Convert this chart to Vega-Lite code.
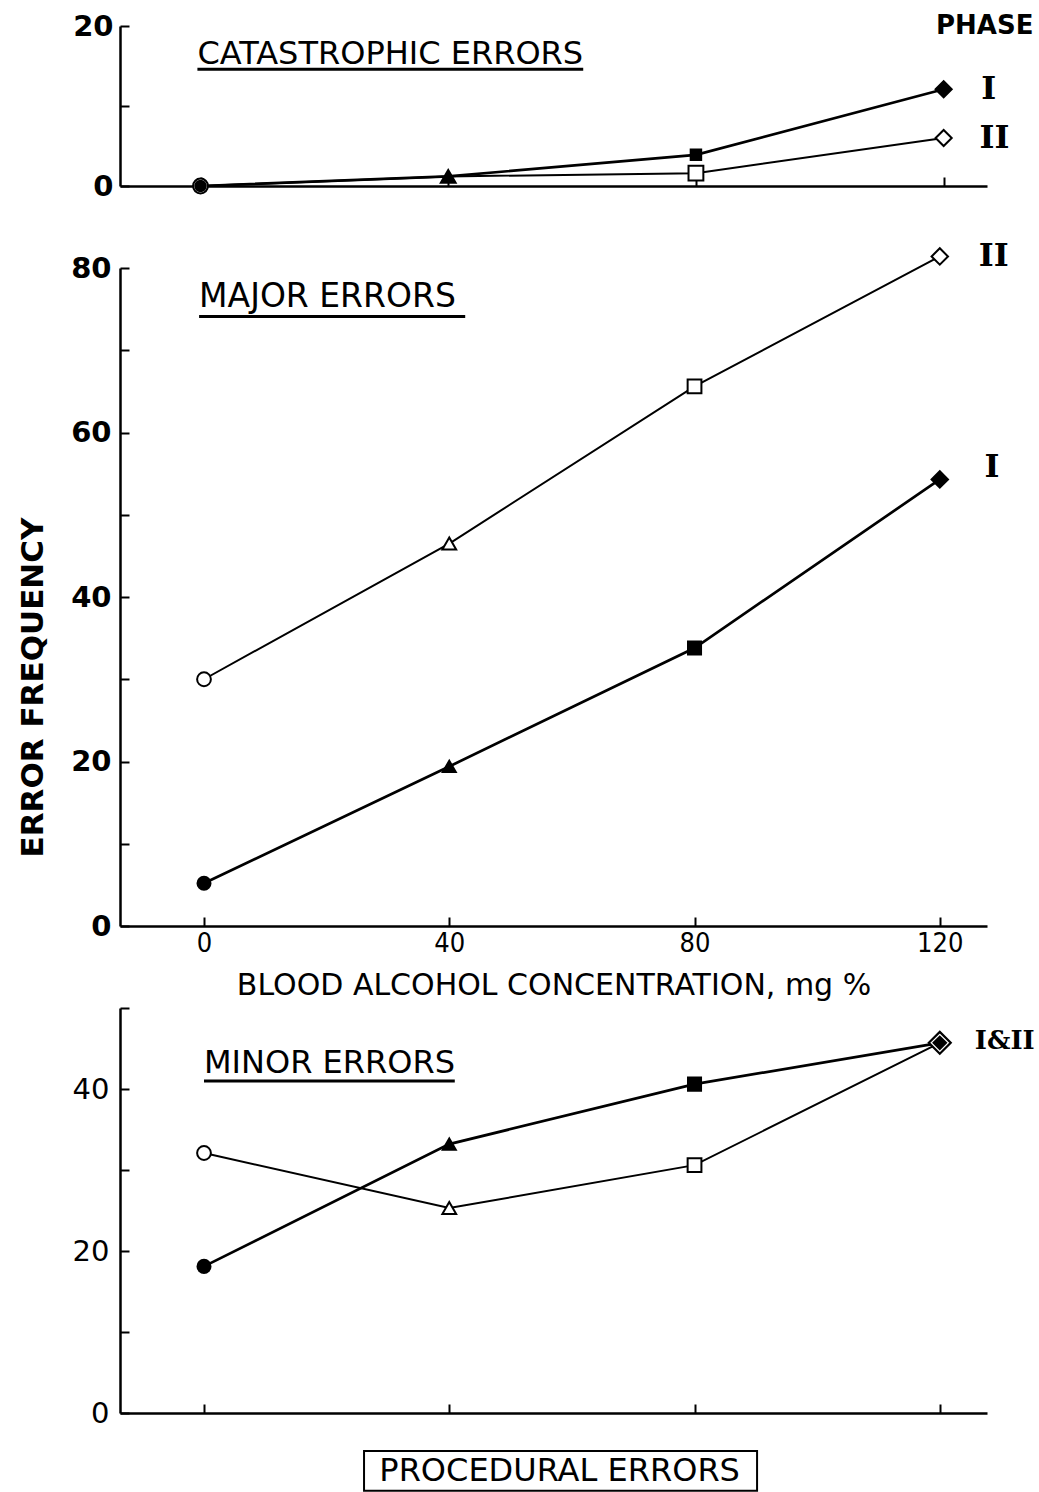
{
  "$schema": "https://vega.github.io/schema/vega-lite/v6.json",
  "background": "white",
  "padding": {"left": 17, "top": 12, "right": 5, "bottom": 2},
  "bounds": "flush",
  "spacing": 82,
  "datasets": {
    "errors": [
      {"panel": "catastrophic", "phase": "II", "bac": 0, "freq": 0},
      {"panel": "catastrophic", "phase": "II", "bac": 40, "freq": 1.2},
      {"panel": "catastrophic", "phase": "II", "bac": 80, "freq": 1.6},
      {"panel": "catastrophic", "phase": "II", "bac": 120, "freq": 6.0},
      {"panel": "catastrophic", "phase": "I", "bac": 0, "freq": 0},
      {"panel": "catastrophic", "phase": "I", "bac": 40, "freq": 1.2},
      {"panel": "catastrophic", "phase": "I", "bac": 80, "freq": 3.9},
      {"panel": "catastrophic", "phase": "I", "bac": 120, "freq": 12.1},
      {"panel": "major", "phase": "II", "bac": 0, "freq": 30.0},
      {"panel": "major", "phase": "II", "bac": 40, "freq": 46.5},
      {"panel": "major", "phase": "II", "bac": 80, "freq": 65.6},
      {"panel": "major", "phase": "II", "bac": 120, "freq": 81.4},
      {"panel": "major", "phase": "I", "bac": 0, "freq": 5.2},
      {"panel": "major", "phase": "I", "bac": 40, "freq": 19.4},
      {"panel": "major", "phase": "I", "bac": 80, "freq": 33.8},
      {"panel": "major", "phase": "I", "bac": 120, "freq": 54.3},
      {"panel": "minor", "phase": "II", "bac": 0, "freq": 32.1},
      {"panel": "minor", "phase": "II", "bac": 40, "freq": 25.3},
      {"panel": "minor", "phase": "II", "bac": 80, "freq": 30.6},
      {"panel": "minor", "phase": "II", "bac": 120, "freq": 45.7},
      {"panel": "minor", "phase": "I", "bac": 0, "freq": 18.1},
      {"panel": "minor", "phase": "I", "bac": 40, "freq": 33.2},
      {"panel": "minor", "phase": "I", "bac": 80, "freq": 40.6},
      {"panel": "minor", "phase": "I", "bac": 120, "freq": 45.7}
    ]
  },
  "config": {
    "view": {"stroke": null},
    "axis": {
      "grid": false,
      "domainColor": "black",
      "domainWidth": 2.5,
      "tickColor": "black",
      "tickWidth": 2,
      "tickSize": -9,
      "labelColor": "black",
      "titleColor": "black",
      "labelFont": "DejaVu Sans",
      "labelFontWeight": "bold",
      "labelFontSize": 29
    }
  },
  "vconcat": [
    {
      "width": 867,
      "height": 160,
      "resolve": {"scale": {"size": "independent"}},
      "layer": [
        {
          "data": {"name": "errors"},
          "transform": [{"filter": "datum.panel == 'catastrophic'"}],
          "mark": {"type": "line", "color": "black"},
          "encoding": {
            "x": {"field": "bac", "type": "quantitative", "scale": {"domain": [-13, 127], "nice": false, "zero": false}, "axis": {"values": [0, 40, 80, 120], "labels": false, "title": null}},
            "y": {"field": "freq", "type": "quantitative", "scale": {"domain": [0, 20], "nice": false}, "axis": {"values": [0, 10, 20], "labelExpr": "datum.value == 10 ? '' : datum.label", "labelPadding": 16, "title": null}},
            "detail": {"field": "phase"},
            "strokeWidth": {"field": "phase", "type": "nominal", "scale": {"domain": ["I", "II"], "range": [2.7, 2]}, "legend": null}
          }
        },
        {
          "data": {"name": "errors"},
          "transform": [{"filter": "datum.panel == 'catastrophic' && datum.bac != 120"}],
          "mark": {"type": "point", "filled": true, "stroke": "black", "strokeWidth": 2, "opacity": 1},
          "encoding": {
            "x": {"field": "bac", "type": "quantitative"},
            "y": {"field": "freq", "type": "quantitative"},
            "shape": {"field": "bac", "type": "nominal", "scale": {"domain": [0, 40, 80, 120], "range": ["circle", "triangle-up", "square", "diamond"]}, "legend": null},
            "fill": {"field": "phase", "type": "nominal", "scale": {"domain": ["I", "II"], "range": ["black", "white"]}, "legend": null},
            "size": {"field": "phase", "type": "nominal", "scale": {"domain": ["I", "II"], "range": [110, 220]}, "legend": null}
          }
        },
        {
          "data": {"name": "errors"},
          "transform": [{"filter": "datum.panel == 'catastrophic' && datum.bac == 120"}],
          "mark": {"type": "point", "filled": true, "stroke": "black", "strokeWidth": 2, "opacity": 1, "shape": "diamond"},
          "encoding": {
            "x": {"field": "bac", "type": "quantitative"},
            "y": {"field": "freq", "type": "quantitative"},
            "fill": {"field": "phase", "type": "nominal", "scale": {"domain": ["I", "II"], "range": ["black", "white"]}, "legend": null},
            "size": {"field": "phase", "type": "nominal", "scale": {"domain": ["I", "II"], "range": [260, 260]}, "legend": null}
          }
        },
        {
          "data": {"values": [{"t": "CATASTROPHIC ERRORS"}]},
          "mark": {"type": "text", "align": "left", "baseline": "alphabetic", "font": "DejaVu Sans", "fontSize": 32, "color": "black"},
          "encoding": {"text": {"field": "t"}, "x": {"datum": -0.5, "type": "quantitative"}, "y": {"datum": 15.25, "type": "quantitative"}}
        },
        {
          "data": {"values": [{}]},
          "mark": {"type": "rule", "color": "black", "strokeWidth": 3},
          "encoding": {"x": {"datum": -0.5, "type": "quantitative"}, "x2": {"datum": 61.8}, "y": {"datum": 14.6, "type": "quantitative"}}
        },
        {
          "data": {"values": [{"t": "PHASE"}]},
          "mark": {"type": "text", "align": "right", "baseline": "middle", "font": "DejaVu Sans", "fontWeight": "bold", "fontSize": 26, "color": "black"},
          "encoding": {"text": {"field": "t"}, "x": {"datum": 134.5, "type": "quantitative"}, "y": {"datum": 20, "type": "quantitative"}}
        },
        {
          "data": {"values": [{"t": "I", "px": 127.3, "py": 12.1}, {"t": "II", "px": 128.2, "py": 6.0}]},
          "mark": {"type": "text", "align": "center", "baseline": "middle", "font": "DejaVu Serif", "fontWeight": "bold", "fontSize": 32, "color": "black"},
          "encoding": {"text": {"field": "t"}, "x": {"field": "px", "type": "quantitative"}, "y": {"field": "py", "type": "quantitative"}}
        }
      ]
    },
    {
      "width": 867,
      "height": 658,
      "resolve": {"scale": {"size": "independent"}},
      "layer": [
        {
          "data": {"name": "errors"},
          "transform": [{"filter": "datum.panel == 'major'"}],
          "mark": {"type": "line", "color": "black"},
          "encoding": {
            "x": {"field": "bac", "type": "quantitative", "scale": {"domain": [-13.7, 127.7], "nice": false, "zero": false}, "axis": {"values": [0, 40, 80, 120], "labelPadding": 13, "labelFont": "DejaVu Sans Condensed", "labelFontWeight": "normal", "labelFontSize": 27, "title": "BLOOD ALCOHOL CONCENTRATION, mg %", "titleFont": "DejaVu Sans", "titleFontWeight": "normal", "titleFontSize": 30, "titlePadding": 14}},
            "y": {"field": "freq", "type": "quantitative", "scale": {"domain": [0, 80], "nice": false}, "axis": {"values": [0, 10, 20, 30, 40, 50, 60, 70, 80], "labelExpr": "datum.value % 20 == 0 ? datum.label : ''", "labelPadding": 18, "title": "ERROR FREQUENCY", "titleFont": "DejaVu Sans", "titleFontWeight": "bold", "titleFontSize": 31, "titleAngle": 270, "titleX": -87, "titleY": 419, "titleBaseline": "middle", "titleAlign": "center"}},
            "detail": {"field": "phase"},
            "strokeWidth": {"field": "phase", "type": "nominal", "scale": {"domain": ["I", "II"], "range": [2.7, 2]}, "legend": null}
          }
        },
        {
          "data": {"name": "errors"},
          "transform": [{"filter": "datum.panel == 'major' && datum.bac != 120"}],
          "mark": {"type": "point", "filled": true, "stroke": "black", "strokeWidth": 2, "opacity": 1},
          "encoding": {
            "x": {"field": "bac", "type": "quantitative"},
            "y": {"field": "freq", "type": "quantitative"},
            "shape": {"field": "bac", "type": "nominal", "scale": {"domain": [0, 40, 80, 120], "range": ["circle", "triangle-up", "square", "diamond"]}, "legend": null},
            "fill": {"field": "phase", "type": "nominal", "scale": {"domain": ["I", "II"], "range": ["black", "white"]}, "legend": null},
            "size": {"field": "phase", "type": "nominal", "scale": {"domain": ["I", "II"], "range": [170, 190]}, "legend": null}
          }
        },
        {
          "data": {"name": "errors"},
          "transform": [{"filter": "datum.panel == 'major' && datum.bac == 120"}],
          "mark": {"type": "point", "filled": true, "stroke": "black", "strokeWidth": 2, "opacity": 1, "shape": "diamond"},
          "encoding": {
            "x": {"field": "bac", "type": "quantitative"},
            "y": {"field": "freq", "type": "quantitative"},
            "fill": {"field": "phase", "type": "nominal", "scale": {"domain": ["I", "II"], "range": ["black", "white"]}, "legend": null},
            "size": {"field": "phase", "type": "nominal", "scale": {"domain": ["I", "II"], "range": [270, 270]}, "legend": null}
          }
        },
        {
          "data": {"values": [{"t": "MAJOR ERRORS"}]},
          "mark": {"type": "text", "align": "left", "baseline": "alphabetic", "font": "DejaVu Sans", "fontSize": 33, "color": "black"},
          "encoding": {"text": {"field": "t"}, "x": {"datum": -0.8, "type": "quantitative"}, "y": {"datum": 75.2, "type": "quantitative"}}
        },
        {
          "data": {"values": [{}]},
          "mark": {"type": "rule", "color": "black", "strokeWidth": 3},
          "encoding": {"x": {"datum": -0.8, "type": "quantitative"}, "x2": {"datum": 42.6}, "y": {"datum": 74.1, "type": "quantitative"}}
        },
        {
          "data": {"values": [{"t": "II", "px": 128.8, "py": 81.5}, {"t": "I", "px": 128.5, "py": 55.8}]},
          "mark": {"type": "text", "align": "center", "baseline": "middle", "font": "DejaVu Serif", "fontWeight": "bold", "fontSize": 32, "color": "black"},
          "encoding": {"text": {"field": "t"}, "x": {"field": "px", "type": "quantitative"}, "y": {"field": "py", "type": "quantitative"}}
        }
      ]
    },
    {
      "width": 867,
      "height": 405,
      "resolve": {"scale": {"size": "independent"}},
      "layer": [
        {
          "data": {"name": "errors"},
          "transform": [{"filter": "datum.panel == 'minor'"}],
          "mark": {"type": "line", "color": "black"},
          "encoding": {
            "x": {"field": "bac", "type": "quantitative", "scale": {"domain": [-13.7, 127.7], "nice": false, "zero": false}, "axis": {"values": [0, 40, 80, 120], "labels": false, "title": null}},
            "y": {"field": "freq", "type": "quantitative", "scale": {"domain": [0, 50], "nice": false}, "axis": {"values": [0, 10, 20, 30, 40, 50], "labelExpr": "datum.value % 20 == 0 ? datum.label : ''", "labelPadding": 20, "labelFontWeight": "normal", "title": null}},
            "detail": {"field": "phase"},
            "strokeWidth": {"field": "phase", "type": "nominal", "scale": {"domain": ["I", "II"], "range": [2.7, 2]}, "legend": null}
          }
        },
        {
          "data": {"name": "errors"},
          "transform": [{"filter": "datum.panel == 'minor' && datum.bac != 120"}],
          "mark": {"type": "point", "filled": true, "stroke": "black", "strokeWidth": 2, "opacity": 1},
          "encoding": {
            "x": {"field": "bac", "type": "quantitative"},
            "y": {"field": "freq", "type": "quantitative"},
            "shape": {"field": "bac", "type": "nominal", "scale": {"domain": [0, 40, 80, 120], "range": ["circle", "triangle-up", "square", "diamond"]}, "legend": null},
            "fill": {"field": "phase", "type": "nominal", "scale": {"domain": ["I", "II"], "range": ["black", "white"]}, "legend": null},
            "size": {"field": "phase", "type": "nominal", "scale": {"domain": ["I", "II"], "range": [170, 190]}, "legend": null}
          }
        },
        {
          "data": {"name": "errors"},
          "transform": [{"filter": "datum.panel == 'minor' && datum.bac == 120"}],
          "mark": {"type": "point", "filled": true, "stroke": "black", "strokeWidth": 2.2, "opacity": 1, "shape": "diamond"},
          "encoding": {
            "x": {"field": "bac", "type": "quantitative"},
            "y": {"field": "freq", "type": "quantitative"},
            "fill": {"field": "phase", "type": "nominal", "scale": {"domain": ["I", "II"], "range": ["black", "white"]}, "legend": null},
            "size": {"field": "phase", "type": "nominal", "scale": {"domain": ["I", "II"], "range": [150, 480]}, "legend": null}
          }
        },
        {
          "data": {"values": [{"t": "MINOR ERRORS"}]},
          "mark": {"type": "text", "align": "left", "baseline": "alphabetic", "font": "DejaVu Sans", "fontSize": 32, "color": "black"},
          "encoding": {"text": {"field": "t"}, "x": {"datum": 0, "type": "quantitative"}, "y": {"datum": 42.0, "type": "quantitative"}}
        },
        {
          "data": {"values": [{}]},
          "mark": {"type": "rule", "color": "black", "strokeWidth": 3},
          "encoding": {"x": {"datum": 0, "type": "quantitative"}, "x2": {"datum": 40.9}, "y": {"datum": 41.0, "type": "quantitative"}}
        },
        {
          "data": {"values": [{"t": "I&II", "px": 130.6, "py": 45.9}]},
          "mark": {"type": "text", "align": "center", "baseline": "middle", "font": "DejaVu Serif", "fontWeight": "bold", "fontSize": 26, "color": "black"},
          "encoding": {"text": {"field": "t"}, "x": {"field": "px", "type": "quantitative"}, "y": {"field": "py", "type": "quantitative"}}
        },
        {
          "data": {"values": [{}]},
          "mark": {"type": "rect", "fill": null, "fillOpacity": 0, "stroke": "black", "strokeWidth": 2},
          "encoding": {"x": {"datum": 26.1, "type": "quantitative"}, "x2": {"datum": 90.2}, "y": {"datum": -4.7, "type": "quantitative"}, "y2": {"datum": -9.6}}
        },
        {
          "data": {"values": [{"t": "PROCEDURAL ERRORS"}]},
          "mark": {"type": "text", "align": "center", "baseline": "middle", "font": "DejaVu Sans", "fontSize": 32, "color": "black"},
          "encoding": {"text": {"field": "t"}, "x": {"datum": 58.0, "type": "quantitative"}, "y": {"datum": -7.2, "type": "quantitative"}}
        }
      ]
    }
  ]
}
